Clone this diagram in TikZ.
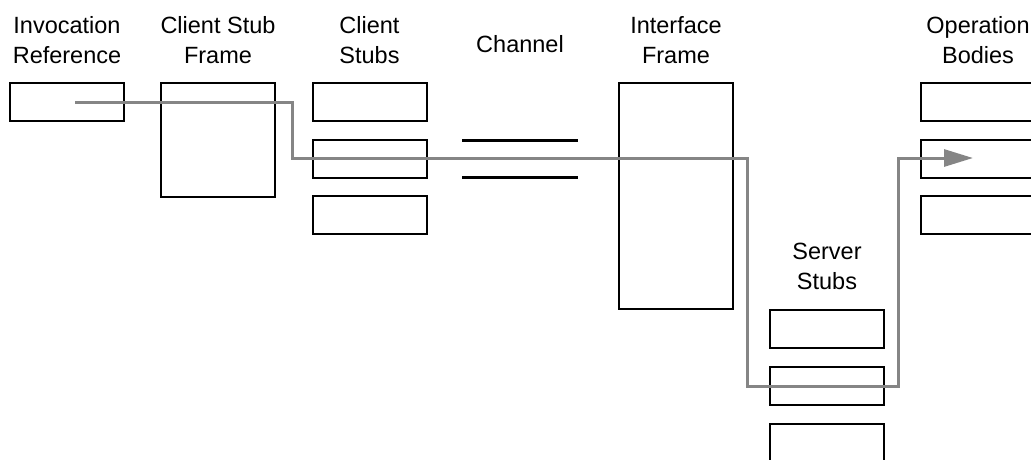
\documentclass[tikz,border=0pt]{standalone}
\usepackage{fontspec}
\setmainfont{Liberation Sans}
\usetikzlibrary{arrows.meta}
\definecolor{flowgray}{RGB}{133,133,133}
\begin{document}
\begin{tikzpicture}[x=1pt,y=-1pt,
  box/.style={draw=black,line width=1.5pt,minimum width=114pt,minimum height=38pt,inner sep=0pt,outer sep=0pt,anchor=north west},
  bigframe/.style={box,minimum height=#1},
  lbl/.style={anchor=base,inner sep=0pt,font=\fontsize{23.5}{30}\selectfont},
  chan/.style={draw=black,line width=3pt},
  flow/.style={draw=flowgray,line width=3pt,-{Triangle[length=29pt,width=17pt]}}]
\useasboundingbox (0,0) rectangle (1031,459);
\clip (0,0) rectangle (1031,459);
% labels
\node[lbl] (lInv) at (67,33) {\begin{tabular}[t]{@{}c@{}}Invocation\\Reference\end{tabular}};
\node[lbl] (lCSF) at (218,33) {\begin{tabular}[t]{@{}c@{}}Client Stub\\Frame\end{tabular}};
\node[lbl] (lCS) at (369.5,33) {\begin{tabular}[t]{@{}c@{}}Client\\Stubs\end{tabular}};
\node[lbl] (lCh) at (520,52) {Channel};
\node[lbl] (lIF) at (676,33) {\begin{tabular}[t]{@{}c@{}}Interface\\Frame\end{tabular}};
\node[lbl] (lOB) at (978,33) {\begin{tabular}[t]{@{}c@{}}Operation\\Bodies\end{tabular}};
\node[lbl] (lSS) at (827,259) {\begin{tabular}[t]{@{}c@{}}Server\\Stubs\end{tabular}};
% boxes
\node[box] (inv) at (10,83) {};
\node[bigframe=114pt] (csf) at (161,83) {};
\node[box] (cs1) at (313,83) {};
\node[box] (cs2) at (313,140) {};
\node[box] (cs3) at (313,196) {};
\node[bigframe=226pt] (ifr) at (619,83) {};
\node[box] (ss1) at (770,310) {};
\node[box] (ss2) at (770,367) {};
\node[box] (ss3) at (770,424) {};
\node[box] (ob1) at (921,83) {};
\node[box] (ob2) at (921,140) {};
\node[box] (ob3) at (921,196) {};
% channel
\coordinate (ch1a) at (462,140); \coordinate (ch1b) at (578,140);
\coordinate (ch2a) at (462,177); \coordinate (ch2b) at (578,177);
\draw[chan] (ch1a) -- (ch1b);
\draw[chan] (ch2a) -- (ch2b);
% flow
\coordinate (start) at (75,102);
\coordinate (tip) at (973,158);
\coordinate (x1) at (292,0);
\coordinate (x2) at (747,0);
\coordinate (x3) at (898,0);
\draw[flow] (start) -- (start -| x1) -- (x1 |- tip) -- (x2 |- tip) -- (x2 |- ss2.center) -- (x3 |- ss2.center) -- (x3 |- tip) -- (tip);
\end{tikzpicture}
\end{document}
